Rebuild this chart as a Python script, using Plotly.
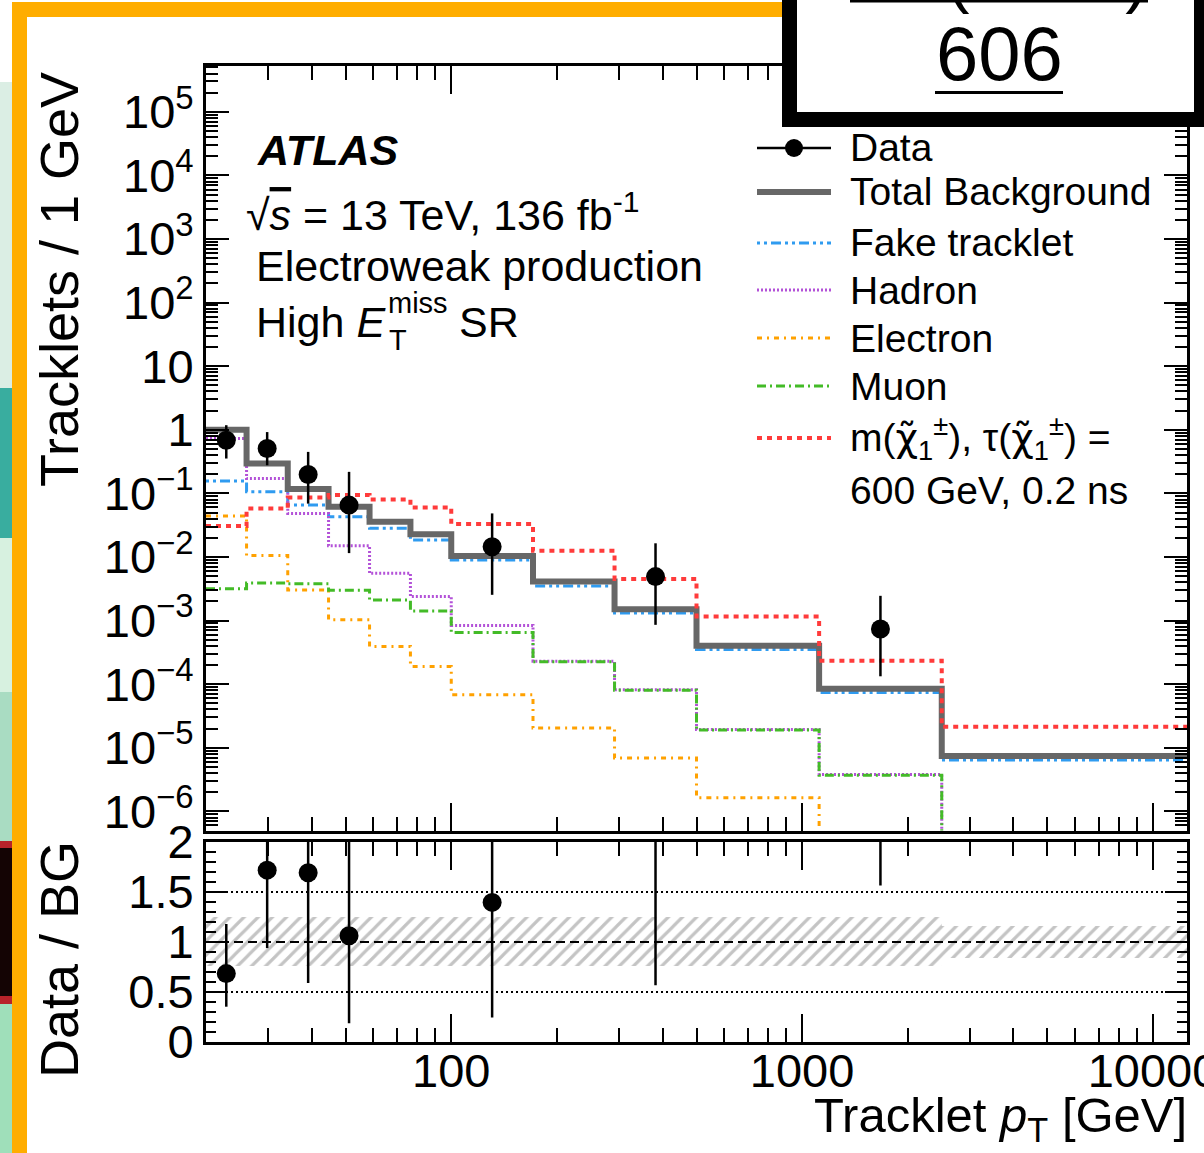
import math
import plotly.graph_objects as go

W, H = 1204, 1153
L, R, T, B = 206, 17, 66, 111
PW, PH = W - L - R, H - T - B

# ---------------------------------------------------------------- data
# tracklet pT bin edges [GeV]
pt_edges = [20, 26.1, 34.2, 44.7, 58.5, 76.5, 100, 171, 292, 500, 1118, 2500, 12500]

# expected yields per bin, tracklets / 1 GeV (0 = empty bin)
total_bg = [1.0, 0.295, 0.117, 0.0615, 0.0358, 0.0227, 0.0104, 0.0041, 0.00151, 4.0e-4, 8.5e-5, 7.4e-6]
fake_trk = [0.156, 0.106, 0.0654, 0.0429, 0.0282, 0.0185, 0.0090, 0.0035, 0.00131, 3.5e-4, 7.4e-5, 6.4e-6]
hadron = [0.73, 0.171, 0.0484, 0.0150, 0.00554, 0.00238, 8.4e-4, 2.3e-4, 8.2e-5, 1.93e-5, 3.8e-6, 0]
electron = [0.044, 0.0105, 0.00303, 0.00103, 3.9e-4, 1.9e-4, 6.8e-5, 2.05e-5, 6.9e-6, 1.64e-6, 0, 0]
muon = [0.00315, 0.0039, 0.0038, 0.0030, 0.0021, 0.00142, 6.5e-4, 2.25e-4, 8.0e-5, 1.9e-5, 3.7e-6, 0]
signal = [0.0306, 0.058, 0.0863, 0.094, 0.0804, 0.0602, 0.033, 0.01256, 0.00452, 0.00116, 2.34e-4, 2.13e-5]

# observed data (non-empty bins only)
data_bin = [0, 1, 2, 3, 6, 8, 10]
data_val = [0.684, 0.507, 0.198, 0.0654, 0.01452, 0.00491, 7.35e-4]
data_up = [1.18, 0.92, 0.449, 0.218, 0.0484, 0.0164, 0.00245]
data_dn = [0.353, 0.277, 0.069, 0.0115, 0.00254, 8.57e-4, 1.33e-4]

# relative background uncertainty band (ratio panel)
bg_band_lo = [0.76, 0.76, 0.76, 0.76, 0.76, 0.76, 0.76, 0.76, 0.76, 0.76, 0.76, 0.84]
bg_band_hi = [1.25, 1.25, 1.25, 1.25, 1.25, 1.25, 1.25, 1.25, 1.25, 1.25, 1.25, 1.16]

# axis ticks
y_exponents = [-6, -5, -4, -3, -2, -1, 0, 1, 2, 3, 4, 5]
ratio_ticks = [0, 0.5, 1, 1.5, 2]
ratio_ticktext = ["0", "0.5", "1", "1.5", "2"]
x_ticks = [100, 1000, 10000]
x_ticktext = ["100", "1000", "10000"]

# ---------------------------------------------------------------- styles
FONT = "Liberation Sans"
C_TOT, C_FAKE, C_HAD = "#676767", "#2f9bf0", "#b352d8"
C_ELE, C_MU, C_SIG = "#ffa100", "#43bb27", "#ff3b3b"
D_FAKE = "3px,4px,3px,4px,10px,4px"
D_HAD = "2px,2px"
D_ELE = "5px,5px,2px,5px"
D_MU = "9px,4px,2px,4px"
D_SIG = "5px,5px"
FLOOR = 1e-12  # empty bins drop below the visible range


def px(x):
    return (x - L) / PW


def py(y):
    return (H - B - y) / PH


def step_y(vals):
    v = [x if x > 0 else FLOOR for x in vals]
    return v + [v[-1]]


def pow10_label(e):
    if e == 0:
        return "1"
    if e == 1:
        return "10"
    return "10<sup>%s</sup>" % (str(e).replace("-", "\u2212"))


fig = go.Figure()


def add_step(vals, color, width, dash):
    fig.add_trace(go.Scatter(
        x=pt_edges, y=step_y(vals), mode="lines", line_shape="hv",
        line=dict(color=color, width=width, dash=dash),
        xaxis="x", yaxis="y", showlegend=False, hoverinfo="skip"))


add_step(fake_trk, C_FAKE, 3, D_FAKE)
add_step(hadron, C_HAD, 3, D_HAD)
add_step(electron, C_ELE, 3, D_ELE)
add_step(muon, C_MU, 3, D_MU)
add_step(total_bg, C_TOT, 6, "solid")
add_step(signal, C_SIG, 4, D_SIG)

centres = [math.sqrt(pt_edges[i] * pt_edges[i + 1]) for i in data_bin]
fig.add_trace(go.Scatter(
    x=centres, y=data_val, mode="markers", xaxis="x", yaxis="y",
    marker=dict(color="black", size=19),
    error_y=dict(type="data", symmetric=False,
                 array=[u - v for u, v in zip(data_up, data_val)],
                 arrayminus=[v - d for v, d in zip(data_val, data_dn)],
                 width=0, thickness=2.5, color="black"),
    showlegend=False, hoverinfo="skip"))

# ratio panel: hatched background band
bx, by = [], []
for i in range(len(pt_edges) - 1):
    bx += [pt_edges[i], pt_edges[i + 1]]
    by += [bg_band_hi[i], bg_band_hi[i]]
for i in reversed(range(len(pt_edges) - 1)):
    bx += [pt_edges[i + 1], pt_edges[i]]
    by += [bg_band_lo[i], bg_band_lo[i]]
fig.add_trace(go.Scatter(
    x=bx, y=by, mode="lines", fill="toself", line=dict(width=0),
    fillcolor="rgba(0,0,0,0)",
    fillpattern=dict(shape="/", fgcolor="#8a8a8a", bgcolor="rgba(0,0,0,0)",
                     size=10, solidity=0.32),
    xaxis="x2", yaxis="y2", showlegend=False, hoverinfo="skip"))

ratio = [v / total_bg[i] for v, i in zip(data_val, data_bin)]
r_up = [u / total_bg[i] for u, i in zip(data_up, data_bin)]
r_dn = [d / total_bg[i] for d, i in zip(data_dn, data_bin)]
fig.add_trace(go.Scatter(
    x=centres, y=ratio, mode="markers", xaxis="x2", yaxis="y2",
    marker=dict(color="black", size=19),
    error_y=dict(type="data", symmetric=False,
                 array=[u - r for u, r in zip(r_up, ratio)],
                 arrayminus=[r - d for r, d in zip(ratio, r_dn)],
                 width=0, thickness=2.5, color="black"),
    showlegend=False, hoverinfo="skip"))

# ---------------------------------------------------------------- axes
x_lo, x_hi = math.log10(pt_edges[0]), math.log10(pt_edges[-1])
x_minor = [m * 10 ** e for e in range(1, 5) for m in range(2, 10)
           if pt_edges[0] <= m * 10 ** e <= pt_edges[-1]]
y_minor = [m * 10.0 ** e for e in range(-7, 6) for m in range(2, 10)]
tickfont = dict(family=FONT, size=47, color="black")

common_x = dict(type="log", range=[x_lo, x_hi], showgrid=False, zeroline=False,
                automargin=False, ticklabeloverflow="allow",
                showline=True, linecolor="black", linewidth=3, mirror="allticks",
                ticks="inside", ticklen=28, tickwidth=2, tickcolor="black",
                tickmode="array", tickvals=x_ticks, ticktext=x_ticktext,
                minor=dict(tickmode="array", tickvals=x_minor, ticks="inside",
                           ticklen=14, tickwidth=2, tickcolor="black"),
                tickfont=tickfont)

fig.update_layout(
    width=W, height=H,
    margin=dict(l=L, r=R, t=T, b=B, autoexpand=False),
    paper_bgcolor="white", plot_bgcolor="white",
    showlegend=False,
    font=dict(family=FONT, color="black"),
    xaxis=dict(common_x, domain=[0, 1], anchor="y", showticklabels=False, matches="x2"),
    xaxis2=dict(common_x, domain=[0, 1], anchor="y2", showticklabels=True,
                ticklabelstandoff=-14),
    yaxis=dict(type="log", domain=[py(830.5), 1], anchor="x", automargin=False,
               range=[math.log10(5e-7), 5.72],
               tickmode="array", tickvals=[10.0 ** e for e in y_exponents],
               ticktext=[pow10_label(e) for e in y_exponents],
               showgrid=False, zeroline=False, showline=True, linecolor="black",
               linewidth=3, mirror="allticks", ticks="inside", ticklen=23,
               tickwidth=2, tickcolor="black", tickfont=tickfont,
               minor=dict(tickmode="array", tickvals=y_minor, ticks="inside",
                          ticklen=12, tickwidth=1.5, tickcolor="black")),
    yaxis2=dict(domain=[0, py(842)], anchor="x2", range=[0, 2], automargin=False,
                tickmode="array", tickvals=ratio_ticks, ticktext=ratio_ticktext,
                showgrid=False, zeroline=False, showline=True, linecolor="black",
                linewidth=3, mirror="allticks", ticks="inside", ticklen=22,
                tickwidth=2, tickcolor="black", tickfont=tickfont,
                minor=dict(dtick=0.1, ticks="inside", ticklen=10, tickwidth=1.5,
                           tickcolor="black")),
)

shapes = []
# ratio reference lines
for yv, dash in [(0.5, "2px,3px"), (1.5, "2px,3px"), (1.0, "9px,5px")]:
    shapes.append(dict(type="line", xref="x2 domain", yref="y2", x0=0, x1=1,
                       y0=yv, y1=yv, line=dict(color="black", width=2, dash=dash),
                       layer="above"))

annotations = []


def text(x, y, s, size, anchor="left", **kw):
    annotations.append(dict(xref="paper", yref="paper", x=px(x), y=py(y), text=s,
                            showarrow=False, xanchor=anchor, yanchor="middle",
                            font=dict(family=FONT, size=size, color="black"), **kw))


# axis titles
text(59, 280, "Tracklets / 1 GeV", 54, anchor="center", textangle=-90)
text(59, 960, "Data / BG", 54, anchor="center", textangle=-90)
text(1189, 1118, "Tracklet <i>p</i><sub>T</sub> [GeV]", 49, anchor="right")

# labels in the upper left
text(255, 150, "<b><i>ATLAS</i></b>", 43)
text(244, 212, "√<span style=\"text-decoration:overline\"><i>s</i></span> = 13 TeV, 136 fb<sup>-1</sup>", 43)
text(254, 266, "Electroweak production", 43)
text(254, 322, "High <i>E</i>", 43)
text(386, 303, "miss", 29)
text(387, 340, "T", 29)
text(457, 322, "SR", 43)

# legend
LX0, LX1, LTX = 757, 831, 848
rows = [148, 192, 243, 290, 338, 386, 438]
CHI = "<span style=\"font-family:DejaVu Sans\">χ̃</span>"
legend_lines = [
    ("Data", "black", 2.5, "solid"),
    ("Total Background", C_TOT, 6, "solid"),
    ("Fake tracklet", C_FAKE, 3, D_FAKE),
    ("Hadron", C_HAD, 3, D_HAD),
    ("Electron", C_ELE, 3, D_ELE),
    ("Muon", C_MU, 3, D_MU),
    ("m(%s<sub>1</sub><sup>±</sup>), τ(%s<sub>1</sub><sup>±</sup>) =" % (CHI, CHI), C_SIG, 4, D_SIG),
]
for (label, col, lw, dash), yrow in zip(legend_lines, rows):
    shapes.append(dict(type="line", xref="paper", yref="paper",
                       x0=px(LX0), x1=px(LX1), y0=py(yrow), y1=py(yrow),
                       line=dict(color=col, width=lw, dash=dash), layer="above"))
    text(LTX, yrow, label, 39)
text(LTX, 490, "600 GeV, 0.2 ns", 39)
mx, r = 794, 9
shapes.append(dict(type="circle", xref="paper", yref="paper",
                   x0=px(mx - r), x1=px(mx + r), y0=py(rows[0] + r), y1=py(rows[0] - r),
                   fillcolor="black", line=dict(color="black", width=0), layer="above"))


# page decorations around the figure
def rect(x0, y0, x1, y1, fill, line=None):
    shapes.append(dict(type="rect", xref="paper", yref="paper",
                       x0=px(x0), x1=px(x1), y0=py(y1), y1=py(y0),
                       fillcolor=fill, line=line or dict(width=0), layer="above"))


for y0, y1, col in [(82, 388, "#dbeee4"), (388, 538, "#39ad9f"), (538, 692, "#d7f1e0"),
                    (692, 841, "#a9dcc2"), (841, 848, "#b8232a"), (848, 996, "#140404"),
                    (996, 1004, "#b8232a"), (1004, 1153, "#9fdfba")]:
    rect(0, y0, 12, y1, col)
rect(12, 2, 27, 1153, "#ffad00")
rect(12, 2, 800, 17, "#ffad00")
rect(782, -20, 1220, 127, "black")
rect(797, -20, 1194, 112, "white")
text(999, 54, "606", 76, anchor="center")
shapes.append(dict(type="line", xref="paper", yref="paper", x0=px(935), x1=px(1063),
                   y0=py(92.5), y1=py(92.5), line=dict(color="black", width=3),
                   layer="above"))
text(999, -25, "82 (2022)", 70, anchor="center")
shapes.append(dict(type="line", xref="paper", yref="paper", x0=px(850), x1=px(1148),
                   y0=py(1), y1=py(1), line=dict(color="black", width=3),
                   layer="above"))

fig.update_layout(shapes=shapes, annotations=annotations)
fig.write_html("out.html")
